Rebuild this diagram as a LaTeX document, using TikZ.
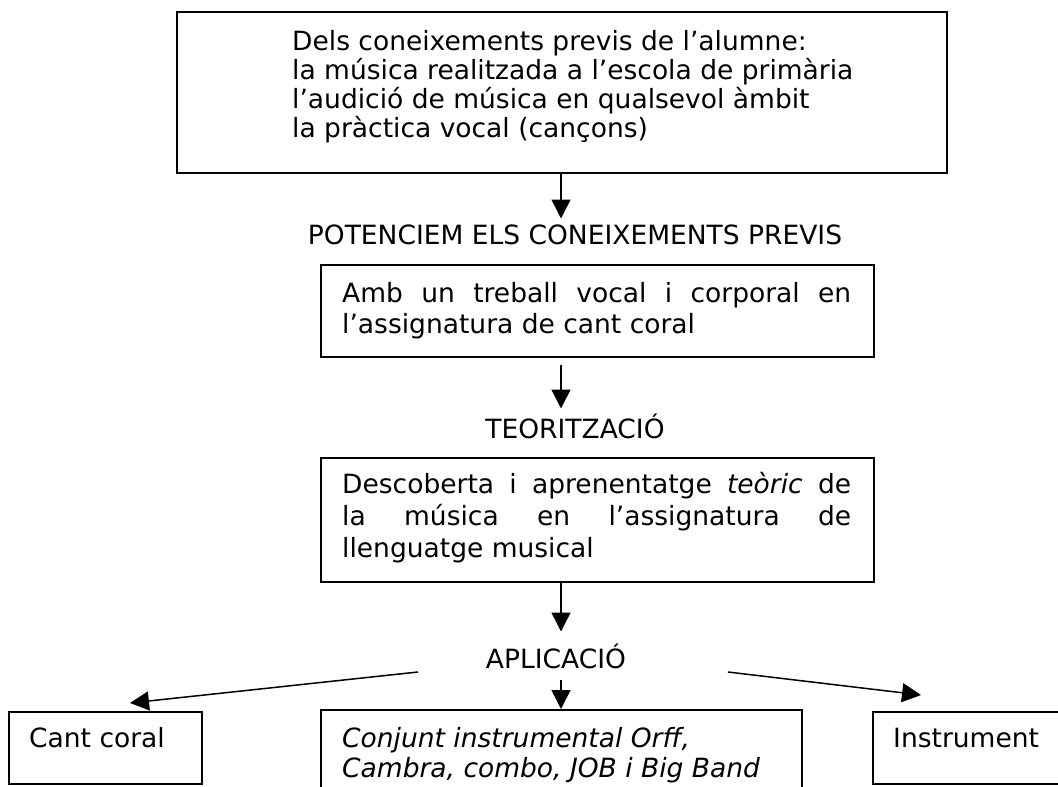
\documentclass[tikz,border=0pt]{standalone}
\usepackage{fontspec}
\setmainfont{DejaVu Sans}
\usetikzlibrary{arrows.meta}
\begin{document}
\begin{tikzpicture}[x=1pt,y=-1pt,
  box/.style={draw, line width=1.5pt, inner sep=0pt, anchor=north west},
  lbl/.style={inner sep=0pt, anchor=base west, font=\fontsize{26.5}{29}\selectfont},
  arr/.style={line width=1.5pt, -{Triangle[length=19pt,width=19pt]}}]
\useasboundingbox (0,0) rectangle (1058,787);
\clip (0,0) rectangle (1058,787);
\tolerance=10000 \hbadness=10000 \hyphenpenalty=10000
% boxes
\node[box, minimum width=770pt, minimum height=161pt] (b1) at (176,11) {};
\node[box, minimum width=553pt, minimum height=92pt] (b2) at (320,264) {};
\node[box, minimum width=553pt, minimum height=124pt] (b3) at (320,457) {};
\node[box, minimum width=193pt, minimum height=72pt] (cc) at (8,711) {};
\node[box, minimum width=481pt, minimum height=100pt] (cj) at (320,709) {};
\node[box, minimum width=230pt, minimum height=72pt] (ins) at (872,711) {};
% texts
\node[lbl] (t1) at (292,50) {\parbox[t]{640pt}{\baselineskip=29pt
  Dels coneixements previs de l’alumne:\\
  la música realitzada a l’escola de primària\\
  l’audició de música en qualsevol àmbit\\
  la pràctica vocal (cançons)}};
\node[lbl, anchor=base] (pot) at (575,244) {POTENCIEM ELS CONEIXEMENTS PREVIS};
\node[lbl] (t2) at (342,302) {\parbox[t]{509pt}{\baselineskip=31pt
  Amb un treball vocal i corporal en\linebreak l’assignatura de cant coral}};
\node[lbl, anchor=base] (teo) at (575,438) {TEORITZACIÓ};
\node[lbl] (t3) at (342,493) {\parbox[t]{509pt}{\baselineskip=32pt
  Descoberta i aprenentatge \textit{teòric} de\linebreak la música en l’assignatura de\linebreak llenguatge musical}};
\node[lbl, anchor=base] (apl) at (556,668) {APLICACIÓ};
\node[lbl] (tcc) at (29,747) {Cant coral};
\node[lbl] (tcj) at (342,747) {\parbox[t]{470pt}{\baselineskip=30pt\itshape
  Conjunt instrumental Orff,\\ Cambra, combo, JOB i Big Band}};
\node[lbl] (tins) at (893,747) {Instrument};
% connectors
\coordinate (spine) at (561,0);
\coordinate (aL) at (418,672);
\coordinate (aR) at (728,672);
\coordinate (tipL) at (130,703);
\coordinate (tipR) at (921,695);
\draw[arr] (b1.south -| spine) -- ++(0,45);
\draw[arr] (b2.south -| spine) ++(0,7) -- ++(0,44);
\draw[arr] (b3.south -| spine) -- ++(0,49);
\draw[arr] (apl.base -| spine) ++(0,12) -- (cj.north -| spine);
\draw[arr] (aL) -- (tipL);
\draw[arr] (aR) -- (tipR);
\end{tikzpicture}
\end{document}
